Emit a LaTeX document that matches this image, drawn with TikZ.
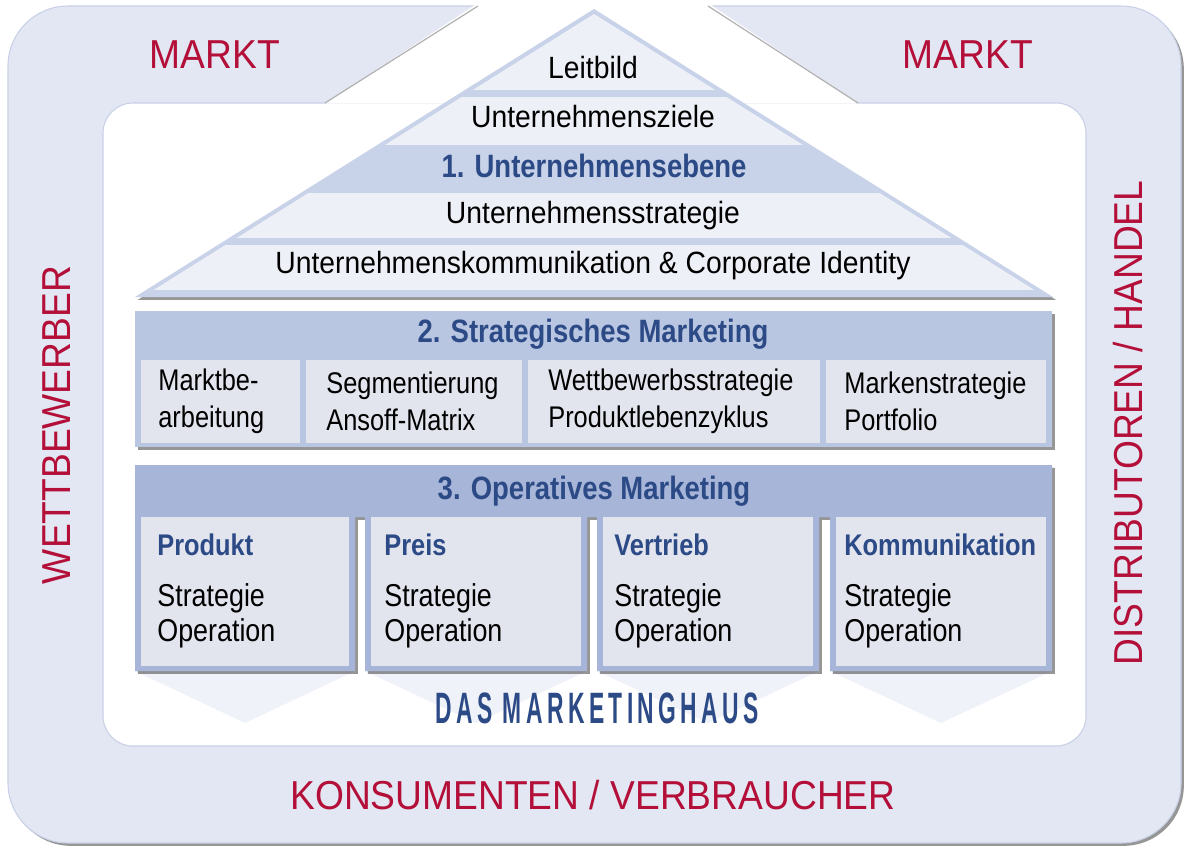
\documentclass[tikz,border=0pt]{standalone}
\usepackage{fontspec}
\setmainfont{Liberation Sans}[FakeStretch=0.85]
\newfontfamily\rooffont{Liberation Sans}[FakeStretch=0.92]
\newfontfamily\redfont{Liberation Sans}[FakeStretch=0.92]
\newfontfamily\housefont{Liberation Sans}[FakeStretch=0.52,LetterSpace=10]
\usetikzlibrary{shadows}

\definecolor{framebg}{HTML}{E2E7F3}
\definecolor{frameedge}{HTML}{C7D0E6}
\definecolor{roofedge}{HTML}{C8D2E8}
\definecolor{roofband}{HTML}{EEF0F7}
\definecolor{stratblue}{HTML}{B9C6E1}
\definecolor{opblue}{HTML}{A7B5D8}
\definecolor{boxgrey}{HTML}{E3E5EE}
\definecolor{chevron}{HTML}{EFF2F9}
\definecolor{headblue}{HTML}{2C4A86}
\definecolor{marketred}{HTML}{B30F38}

\tikzset{
    boxshadow/.style={drop shadow={shadow xshift=1.6pt, shadow yshift=-1.6pt, opacity=0.55, fill=black!75}},
    redlabel/.style={text=marketred, font=\redfont\fontsize{23}{23}\selectfont},
    rooftext/.style={font=\rooffont\fontsize{17.5}{17.5}\selectfont},
    heading/.style={text=headblue, font=\bfseries\fontsize{18.4}{18.4}\selectfont},
    subtext/.style={anchor=west, align=left, inner sep=0pt, font=\fontsize{17}{21}\selectfont},
    colhead/.style={anchor=west, inner sep=0pt, text=headblue, font=\bfseries\fontsize{17}{17}\selectfont},
    coltext/.style={anchor=west, align=left, inner sep=0pt, font=\fontsize{18}{20}\selectfont},
}

\begin{document}
\begin{tikzpicture}[x=0.02cm, y=-0.02cm]
    \useasboundingbox (0,0) rectangle (1190,856);

    % Markt frame
    \fill[framebg, draw=frameedge, line width=0.6pt, rounded corners=1.2cm, boxshadow] (8,6) rectangle (1181,843);
    \fill[white, draw=frameedge, line width=0.6pt, rounded corners=0.6cm] (103,103) rectangle (1086,746);
    \fill[white] (478,3) -- (325,103.5) -- (858,103.5) -- (708,3) -- cycle;
    \draw[black!30, line width=0.7pt] (478,6) -- (325,103);
    \draw[black!30, line width=0.7pt] (708,6) -- (858,103);

    % chevrons below the columns
    \fill[chevron] (135,671) -- (355,671) -- (245,723) -- cycle;
    \fill[chevron] (365,671) -- (587,671) -- (476,723) -- cycle;
    \fill[chevron] (597,671) -- (819,671) -- (708,723) -- cycle;
    \fill[chevron] (830,671) -- (1052,671) -- (941,723) -- cycle;

    % Roof
    \fill[roofedge, boxshadow] (135,297) -- (594,9) -- (1053,297) -- cycle;
    \begin{scope}
        \clip (152,291) -- (594,14) -- (1036,291) -- cycle;
        \fill[roofband] (100,0) rectangle (1100,90);
        \fill[roofband] (100,97) rectangle (1100,145);
        \fill[roofband] (100,193) rectangle (1100,238);
        \fill[roofband] (100,245) rectangle (1100,290);
    \end{scope}
    \node[rooftext] (leitbild) at (593,68) {Leitbild};
    \node[rooftext] (ziele) at (593,117) {Unternehmensziele};
    \node[heading] (ebene) at (594,166) {1. Unternehmensebene};
    \node[rooftext] (ustrat) at (593,216) {Unternehmensstrategie};
    \node[rooftext] (ukomm) at (593,266) {Unternehmenskommunikation \& Corporate Identity};

    % Strategisches Marketing
    \fill[stratblue, boxshadow] (135,311) rectangle (1052,447);
    \node[heading] (strat) at (593,334) {2. Strategisches Marketing};
    \fill[boxgrey] (141,360) rectangle (300,443);
    \fill[boxgrey] (306,360) rectangle (522,443);
    \fill[boxgrey] (528,360) rectangle (820,443);
    \fill[boxgrey] (826,360) rectangle (1046,443);
    \node[subtext] (bearb) at (158,401) {Marktbe-\\arbeitung};
    \node[subtext] (segm) at (326,401) {Segmentierung\\Ansoff-Matrix};
    \node[subtext] (wettbs) at (548,401) {Wettbewerbsstrategie\\Produktlebenzyklus};
    \node[subtext] (marken) at (844,401) {Markenstrategie\\Portfolio};

    % Operatives Marketing
    \fill[opblue, boxshadow] (135,465) -- (1052,465) -- (1052,671) -- (830,671) -- (830,517)
        -- (819,517) -- (819,671) -- (597,671) -- (597,517) -- (587,517) -- (587,671)
        -- (365,671) -- (365,517) -- (355,517) -- (355,671) -- (135,671) -- cycle;
    \node[heading] (oper) at (594,491) {3. Operatives Marketing};
    \fill[boxgrey] (141,517) rectangle (349,666);
    \fill[boxgrey] (371,517) rectangle (581,666);
    \fill[boxgrey] (603,517) rectangle (813,666);
    \fill[boxgrey] (836,517) rectangle (1046,666);
    \node[colhead] (produkt) at (157,545) {Produkt};
    \node[colhead] (preis) at (384,545) {Preis};
    \node[colhead] (vertrieb) at (614,545) {Vertrieb};
    \node[colhead] (kommu) at (844,545) {Kommunikation};
    \node[coltext] (produkt-so) at (157,616) {Strategie\\Operation};
    \node[coltext] (preis-so) at (384,616) {Strategie\\Operation};
    \node[coltext] (vertrieb-so) at (614,616) {Strategie\\Operation};
    \node[coltext] (kommu-so) at (844,616) {Strategie\\Operation};

    \node[text=headblue, font=\housefont\bfseries\fontsize{25}{25}\selectfont] (haus) at (597,708) {DAS MARKETINGHAUS};

    % Markt labels
    \node[redlabel] (markt-l) at (215,55) {MARKT};
    \node[redlabel] (markt-r) at (968,55) {MARKT};
    \node[redlabel, rotate=90] (wettbewerb) at (57,425) {WETTBEWERBER};
    \node[redlabel, rotate=90] (handel) at (1128,423) {DISTRIBUTOREN / HANDEL};
    \node[redlabel] (konsum) at (593,795) {KONSUMENTEN / VERBRAUCHER};
\end{tikzpicture}
\end{document}
